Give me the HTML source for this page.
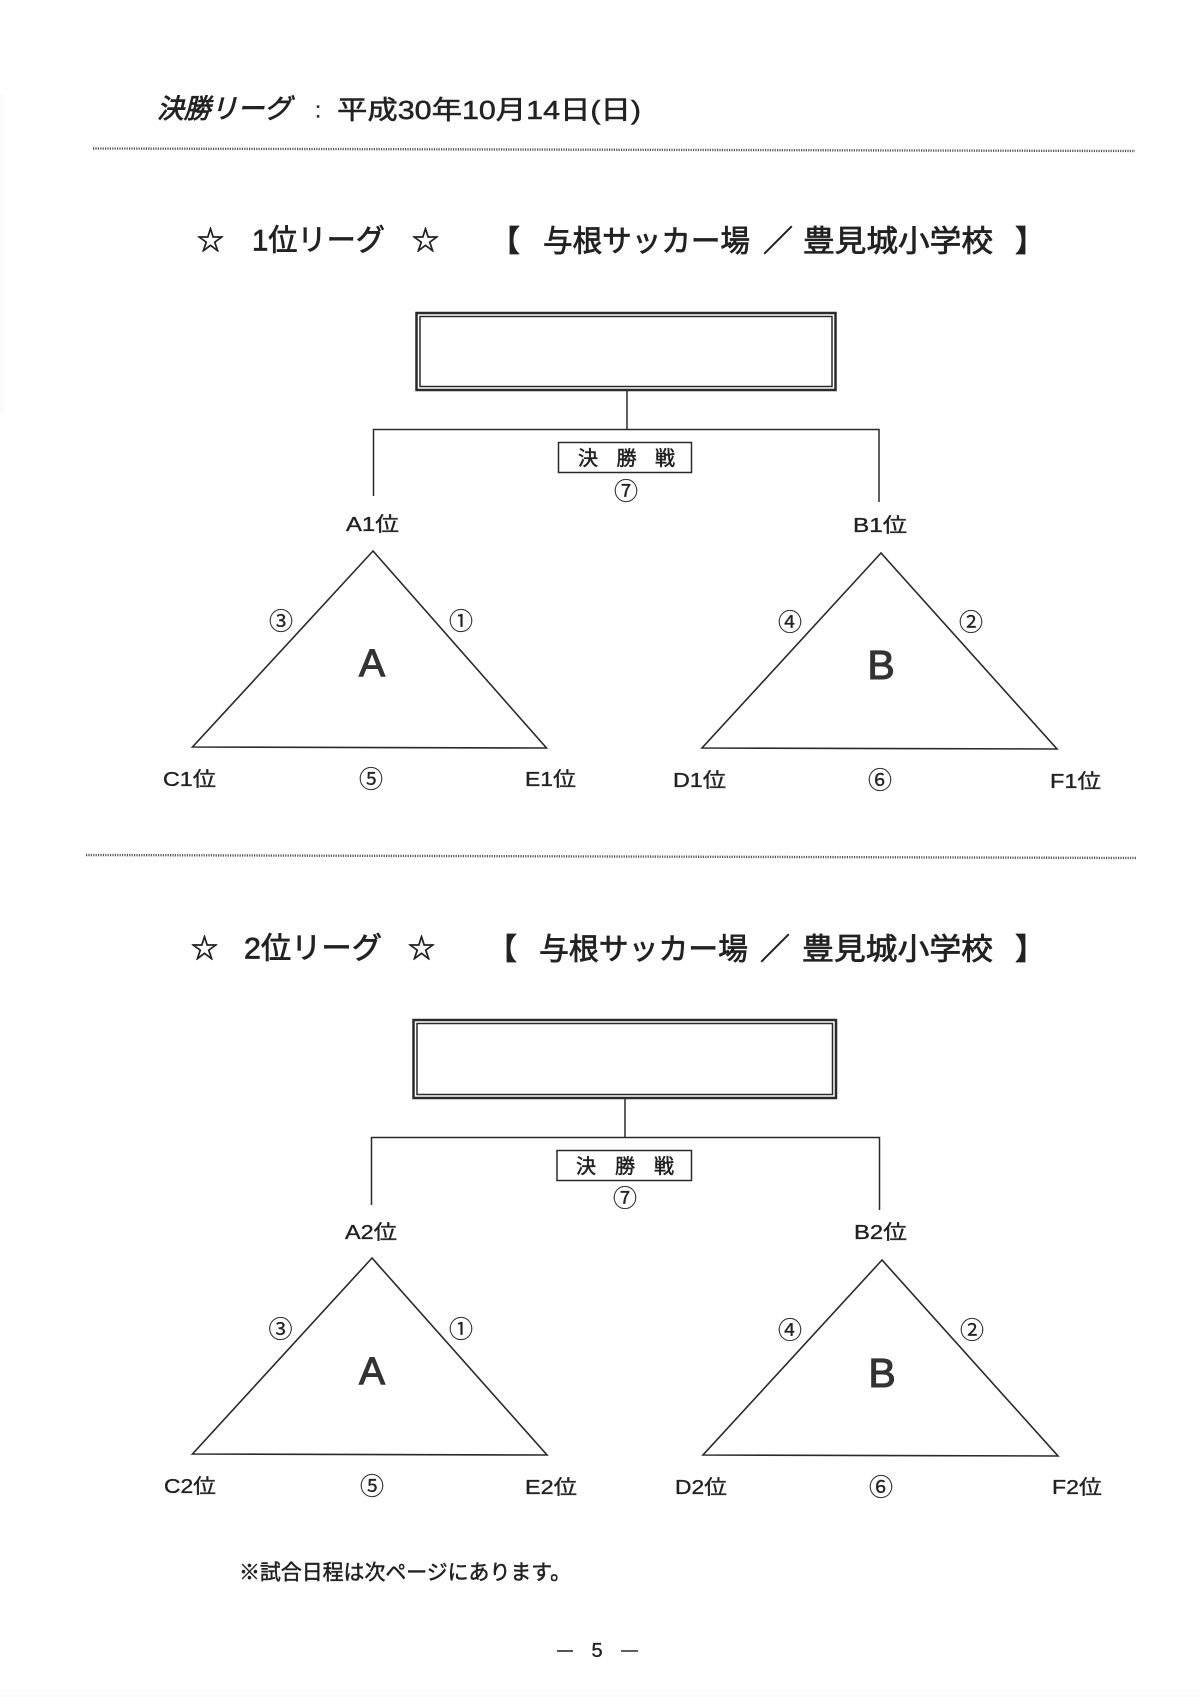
<!DOCTYPE html>
<html lang="ja"><head><meta charset="utf-8"><title>決勝リーグ</title>
<style>
html,body{margin:0;padding:0;background:#fff}
svg{display:block}
text{font-family:"Liberation Sans","Noto Sans CJK JP",sans-serif;fill:#222;stroke:#222;stroke-width:.35px;dominant-baseline:central}
.h{font-size:30px;stroke-width:.75px}
.l{font-size:20px}
.c{font-size:24px;text-anchor:middle;stroke-width:.2px}
.big{font-size:39px;text-anchor:middle;fill:#333;stroke:#333;stroke-width:1.1px}
.ln{stroke:#2a2a2a;stroke-width:1.5;fill:none}
.tri{stroke:#2a2a2a;stroke-width:1.6;fill:none;stroke-linejoin:miter}
.dot{stroke:#555;stroke-width:2.4;stroke-dasharray:1.2 1.2;fill:none}
</style></head><body>
<svg width="1200" height="1697" viewBox="0 0 1200 1697" xmlns="http://www.w3.org/2000/svg">
<rect width="1200" height="1697" fill="#fff"/>
<rect x="0" y="95" width="4" height="320" fill="#fbfbfb"/>
<rect x="0" y="1694" width="1200" height="3" fill="#fbfbfb"/>

<text x="157" y="109" style="font-size:27px;font-style:italic;stroke-width:.8px" textLength="134" lengthAdjust="spacingAndGlyphs">決勝リーグ</text>
<text x="315" y="110" style="font-size:22px">:</text>
<text x="337" y="110" style="font-size:26px;stroke-width:.5px" textLength="304" lengthAdjust="spacingAndGlyphs">平成30年10月14日(日)</text>
<line class="dot" x1="93" y1="148.5" x2="1135" y2="151"/>

<!-- Section 1 -->
<text class="h" x="197" y="241" style="font-size:27px">☆</text>
<text class="h" x="252" y="241" textLength="133" lengthAdjust="spacingAndGlyphs">1位リーグ</text>
<text class="h" x="412" y="241" style="font-size:27px">☆</text>
<text class="h" x="490" y="242">【</text>
<text class="h" x="543" y="242" textLength="207" lengthAdjust="spacingAndGlyphs">与根サッカー場</text>
<text class="h" x="763" y="242">／</text>
<text class="h" x="803" y="242" textLength="190" lengthAdjust="spacingAndGlyphs">豊見城小学校</text>
<text class="h" x="1015" y="242">】</text>

<rect x="416.500" y="313" width="419" height="77" fill="none" stroke="#2a2a2a" stroke-width="2.500"/>
<rect x="420" y="316.500" width="412" height="70" fill="none" stroke="#2a2a2a" stroke-width="1.500"/>
<polyline class="ln" points="627,391 627,429.500"/>
<polyline class="ln" points="373.500,496 373.500,429.500 879,429.500 879,502"/>
<rect x="558.500" y="442.500" width="133" height="30" fill="#fff" stroke="#2a2a2a" stroke-width="1.500"/>
<text class="l" x="578" y="459" textLength="97" lengthAdjust="spacing" style="stroke-width:.5px">決勝戦</text>
<text class="c" x="626" y="492">⑦</text>
<text class="l" x="346" y="525" textLength="53" lengthAdjust="spacingAndGlyphs">A1位</text>
<text class="l" x="853" y="526" textLength="54" lengthAdjust="spacingAndGlyphs">B1位</text>

<polygon class="tri" points="373,551 192.500,747 546.500,748"/>
<polygon class="tri" points="881,553 702,748 1057,749"/>
<text class="c" x="281" y="622">③</text>
<text class="c" x="461" y="622">①</text>
<text class="c" x="790" y="623">④</text>
<text class="c" x="971" y="623">②</text>
<text class="big" x="372" y="664">A</text>
<text class="big" x="881" y="665" style="font-size:41px">B</text>
<text class="l" x="163" y="780" textLength="53" lengthAdjust="spacingAndGlyphs">C1位</text>
<text class="c" x="371" y="780">⑤</text>
<text class="l" x="525" y="780" textLength="51" lengthAdjust="spacingAndGlyphs">E1位</text>
<text class="l" x="673" y="781" textLength="53" lengthAdjust="spacingAndGlyphs">D1位</text>
<text class="c" x="880" y="781">⑥</text>
<text class="l" x="1050" y="782" textLength="51" lengthAdjust="spacingAndGlyphs">F1位</text>

<line class="dot" x1="86" y1="855" x2="1136" y2="858"/>

<!-- Section 2 -->
<text class="h" x="191" y="949" style="font-size:27px">☆</text>
<text class="h" x="244" y="949" textLength="138" lengthAdjust="spacingAndGlyphs">2位リーグ</text>
<text class="h" x="408" y="949" style="font-size:27px">☆</text>
<text class="h" x="487" y="950">【</text>
<text class="h" x="539" y="950" textLength="209" lengthAdjust="spacingAndGlyphs">与根サッカー場</text>
<text class="h" x="760" y="950">／</text>
<text class="h" x="802" y="950" textLength="191" lengthAdjust="spacingAndGlyphs">豊見城小学校</text>
<text class="h" x="1015" y="950">】</text>

<rect x="413.500" y="1020" width="422.500" height="78" fill="none" stroke="#2a2a2a" stroke-width="2.500"/>
<rect x="417" y="1023.500" width="415.500" height="71" fill="none" stroke="#2a2a2a" stroke-width="1.500"/>
<polyline class="ln" points="625,1099 625,1137.500"/>
<polyline class="ln" points="371.500,1205 371.500,1137.500 879.500,1137.500 879.500,1210"/>
<rect x="557" y="1150.500" width="134.500" height="30" fill="#fff" stroke="#2a2a2a" stroke-width="1.500"/>
<text class="l" x="576" y="1167" textLength="98" lengthAdjust="spacing" style="stroke-width:.5px">決勝戦</text>
<text class="c" x="625" y="1199">⑦</text>
<text class="l" x="345" y="1233" textLength="52" lengthAdjust="spacingAndGlyphs">A2位</text>
<text class="l" x="854" y="1233" textLength="53" lengthAdjust="spacingAndGlyphs">B2位</text>

<polygon class="tri" points="372,1258 192.500,1454 547,1455"/>
<polygon class="tri" points="882,1260 703,1455 1058,1456"/>
<text class="c" x="280.500" y="1330">③</text>
<text class="c" x="461" y="1330">①</text>
<text class="c" x="790" y="1331">④</text>
<text class="c" x="972" y="1331">②</text>
<text class="big" x="372" y="1372">A</text>
<text class="big" x="882" y="1373" style="font-size:41px">B</text>
<text class="l" x="164" y="1487" textLength="52" lengthAdjust="spacingAndGlyphs">C2位</text>
<text class="c" x="372" y="1487">⑤</text>
<text class="l" x="525" y="1488" textLength="52" lengthAdjust="spacingAndGlyphs">E2位</text>
<text class="l" x="675" y="1488" textLength="52" lengthAdjust="spacingAndGlyphs">D2位</text>
<text class="c" x="881" y="1488">⑥</text>
<text class="l" x="1052" y="1488" textLength="50" lengthAdjust="spacingAndGlyphs">F2位</text>

<text x="239" y="1573" style="font-size:21px;stroke-width:.5px" textLength="332" lengthAdjust="spacingAndGlyphs">※試合日程は次ページにあります。</text>
<text x="597" y="1651" style="font-size:20px;text-anchor:middle">5</text>
<line x1="557" y1="1651" x2="573" y2="1651" stroke="#2a2a2a" stroke-width="1.600"/>
<line x1="621" y1="1651" x2="638" y2="1651" stroke="#2a2a2a" stroke-width="1.600"/>
</svg>
</body></html>
